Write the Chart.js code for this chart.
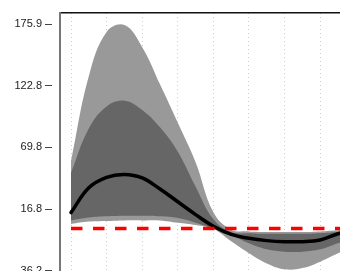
<!DOCTYPE html>
<html>
<head>
<meta charset="utf-8">
<script src="https://cdn.jsdelivr.net/npm/chart.js@4"></script>
<style>
html,body{margin:0;padding:0;background:#fff;overflow:hidden;}
#wrap{width:380px;height:300px;}
</style>
</head>
<body>
<div id="wrap"><canvas id="irfChart" width="380" height="300"></canvas></div>
<script>

/* ===============================
        Data
================================ */

const steps = [0,0.5,1,1.5,2,2.5,3,3.5,4,4.5,5,5.5,6,6.5,7,7.5,8];

const response = [13.7,35,44,46.5,43.5,34,23,12,2,-5,-8.4,-10.4,-11.3,-11.3,-9.8,-4.5,-1];

const innerUpper = [48,86,105,110,102,87,66,36,8,-3,-4,-4.5,-4.5,-4.5,-4,-3,-2];
const innerLower = [7,9.5,10.5,11,11,10.5,9,5,0,-5.5,-12.7,-17.9,-19.9,-19.9,-17.9,-12.7,-8];

const outerUpper = [58,131,169,175,156,124,91,57,14,-1,-2.5,-3,-3,-3,-2.5,-1.5,-1];
const outerLower = [4,6,6.5,7,7,7,5,3,-0.5,-11,-21.3,-30,-35,-34,-28.5,-21.3,-15];

const zeroLine = steps.map(()=>0);

const yTickValues = [-36.2,16.8,69.8,122.8,175.9];
const yTickLabels = ["-36.2","16.8","69.8","122.8","175.9"];

const xTickValues = [0,1,2,3,4,5,6,7,8];


const pts = arr => arr.map((v,i)=>({x:steps[i],y:v}));


/* ===============================
        Chart
================================ */

document.addEventListener("DOMContentLoaded",()=>{

const canvas = document.getElementById("irfChart");

new Chart(canvas,{

type:"line",

data:{
datasets:[
{
label:"zero",
data:pts(zeroLine),
borderColor:"#ff0000",
borderWidth:3.5,
borderDash:[11.5,10.5],
pointRadius:0,
fill:false
},
{
label:"response",
data:pts(response),
borderColor:"#000000",
borderWidth:3.5,
borderCapStyle:"round",
tension:0.4,
pointRadius:0,
fill:false
},
{
label:"inner upper",
data:pts(innerUpper),
borderWidth:0,
tension:0.4,
pointRadius:0,
backgroundColor:"#666666",
fill:"+1"
},
{
label:"inner lower",
data:pts(innerLower),
borderWidth:0,
tension:0.4,
pointRadius:0,
fill:false
},
{
label:"outer upper",
data:pts(outerUpper),
borderWidth:0,
tension:0.4,
pointRadius:0,
backgroundColor:"#999999",
fill:"+1"
},
{
label:"outer lower",
data:pts(outerLower),
borderWidth:0,
tension:0.4,
pointRadius:0,
fill:false
}
]
},

options:{
responsive:false,
animation:false,
devicePixelRatio:1,
layout:{
padding:{top:13,bottom:10,left:0,right:0}
},
plugins:{
legend:{display:false},
tooltip:{enabled:false}
},
scales:{
x:{
type:"linear",
position:"bottom",
min:-0.309,
max:8.68,
afterBuildTicks:s=>{s.ticks = xTickValues.map(v=>({value:v}));},
afterFit:s=>{s.height = 0;},
ticks:{display:false},
border:{display:false,dash:[1,3]},
grid:{
color:"#cccccc",
lineWidth:1,
drawTicks:false
}
},
x2:{
type:"linear",
position:"top",
min:-0.309,
max:8.68,
afterFit:s=>{s.height = 0;},
ticks:{display:false},
grid:{display:false,drawTicks:false},
border:{display:true,color:"#111111",width:1.5}
},
y:{
type:"linear",
min:-52.86,
max:185.36,
afterBuildTicks:s=>{s.ticks = yTickValues.map(v=>({value:v}));},
afterFit:s=>{s.width = 60;},
ticks:{
color:"#222222",
padding:3,
font:{family:"'Liberation Sans', Arial, sans-serif",size:11},
callback:(v)=>{
const i = yTickValues.indexOf(v);
return i >= 0 ? yTickLabels[i] : "";
}
},
grid:{
drawOnChartArea:false,
tickLength:15,
tickColor:"#444444",
tickBorderDash:[7,20],
lineWidth:1
},
border:{display:true,color:"#777777",width:2}
}
}
}

});

});
</script>
</body>
</html>
